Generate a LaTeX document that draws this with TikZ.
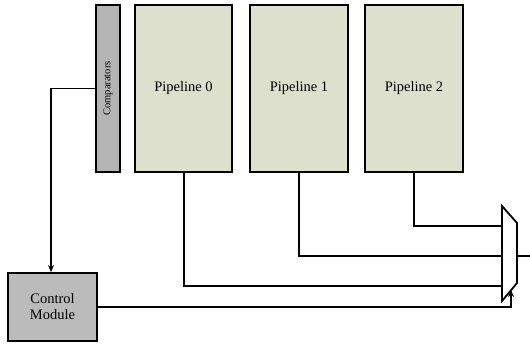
\documentclass[tikz,border=0pt]{standalone}
\usepackage{fontspec}
\setmainfont{Liberation Serif}
\usetikzlibrary{arrows.meta}
\definecolor{pipefill}{HTML}{DDE0CD}
\definecolor{compfill}{HTML}{B4B4B4}
\definecolor{ctrlfill}{HTML}{BBBBBB}
\begin{document}
\begin{tikzpicture}[x=1pt,y=-1pt,
  wire/.style={line width=1.8pt,draw=black},
  arr/.style={wire,-{Stealth[length=7pt,width=6pt]}},
  pipebox/.style={draw=black,line width=1.8pt,fill=pipefill,inner sep=0pt,
    minimum width=97pt,minimum height=167pt,font=\fontsize{14.5}{16}\selectfont},
  compbox/.style={draw=black,line width=1.8pt,fill=compfill,inner sep=0pt,
    minimum width=24pt,minimum height=167pt},
  ctrlbox/.style={draw=black,line width=1.8pt,fill=ctrlfill,inner sep=0pt,
    minimum width=89pt,minimum height=68pt,align=center,font=\fontsize{14.5}{16}\selectfont}
]
\useasboundingbox (0,0) rectangle (530,344);
\node[compbox] (comp) at (108,88.5) {};
\node[rotate=90,font=\fontsize{10.5}{12}\selectfont] (complabel) at (comp.center) {Comparators};
\node[pipebox] (p0) at (183.5,88.5) {Pipeline 0};
\node[pipebox,minimum width=98pt] (p1) at (299,88.5) {Pipeline 1};
\node[pipebox,minimum width=98pt] (p2) at (414,88.5) {Pipeline 2};
\node[ctrlbox] (ctrl) at (52.5,307) {Control\\Module};
% multiplexer
\coordinate (mA) at (502,206);
\coordinate (mB) at (517,223);
\coordinate (mC) at (517,283);
\coordinate (mD) at (502,301);
\draw[wire,line join=miter] (mA) -- (mB) -- (mC) -- (mD) -- cycle;
\coordinate (in2) at (502,226);
\coordinate (in1) at (502,256);
\coordinate (in0) at (502,286);
\coordinate (out) at (517,256);
\coordinate (outend) at (530,256);
\coordinate (sel) at (511,290);
\coordinate (cturn) at (51,88.5);
% connectors
\draw[wire] (p2.south -| 414,0) |- (in2);
\draw[wire] (p1.south -| 299,0) |- (in1);
\draw[wire] (p0.south -| 184,0) |- (in0);
\draw[wire] (out) -- (outend);
\draw[arr] (comp.west) -- (cturn) -- (cturn |- ctrl.north);
\draw[arr] (ctrl.east) -| (sel);
\end{tikzpicture}
\end{document}
